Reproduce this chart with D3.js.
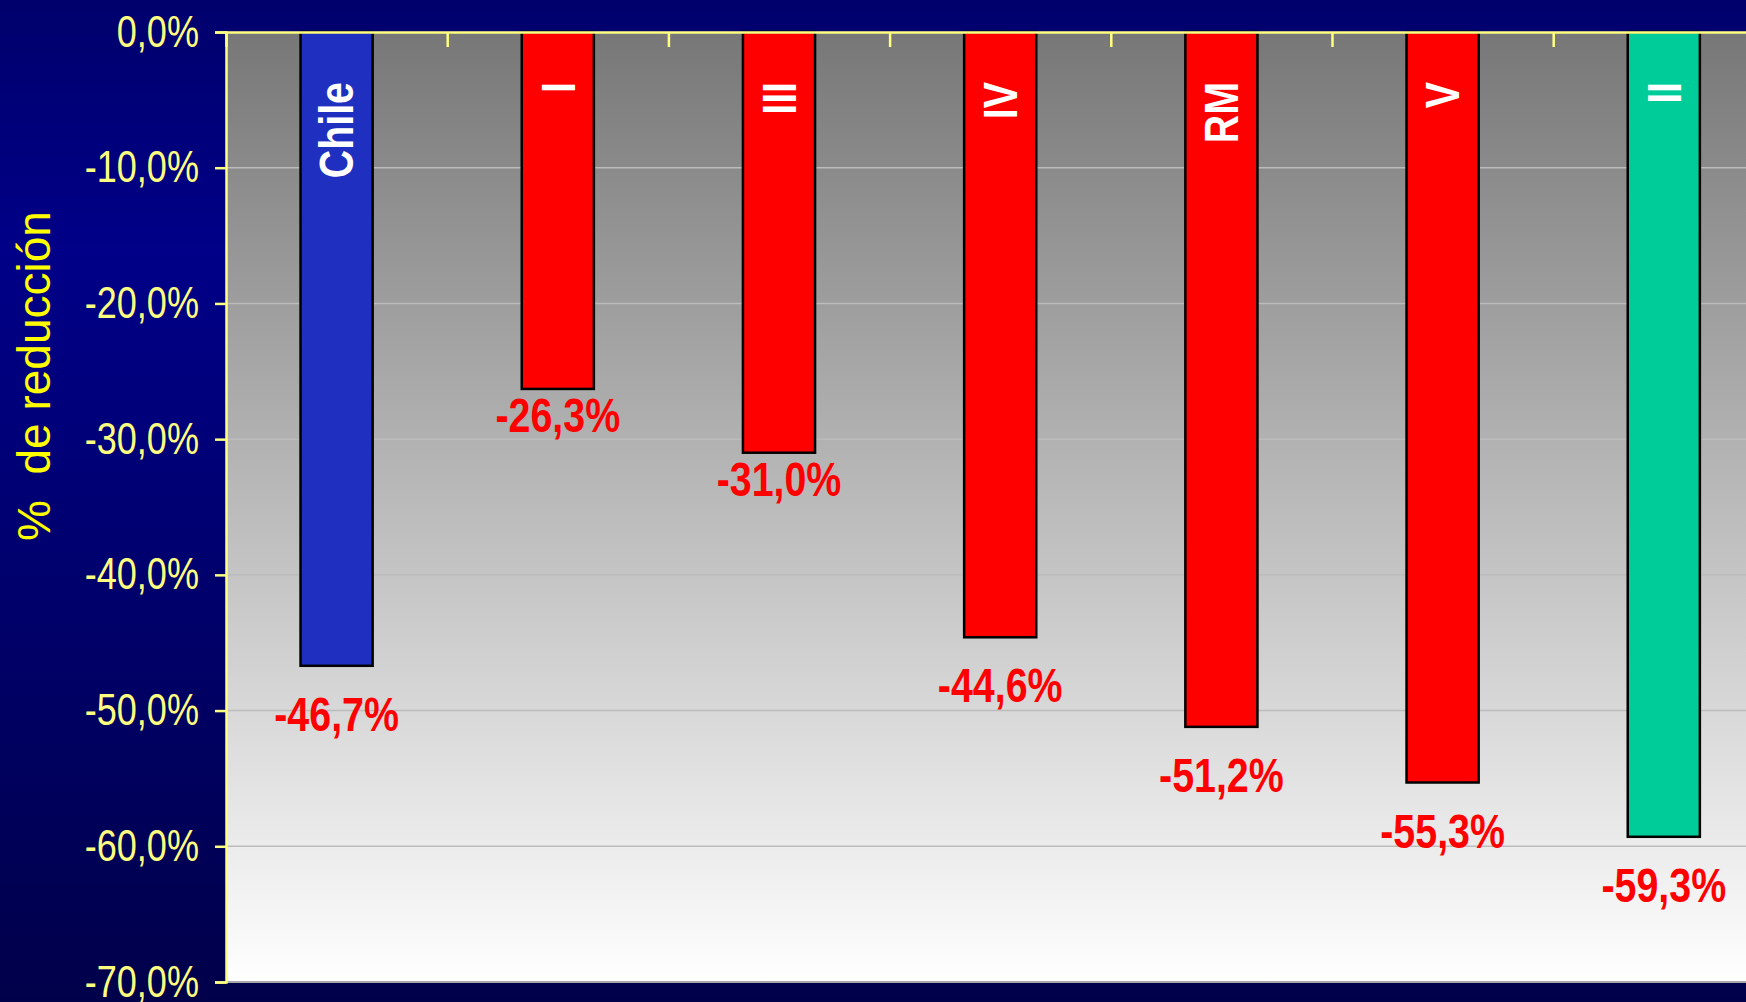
<!DOCTYPE html>
<html>
<head>
<meta charset="utf-8">
<script src="https://cdn.jsdelivr.net/npm/d3@7"></script>
<style>
  html, body { margin: 0; padding: 0; background: #000070; }
  svg { display: block; }
</style>
</head>
<body>
<svg id="chart" width="1746" height="1002"></svg>
<script>
// Data
const regions = ["Chile", "I", "III", "IV", "RM", "V", "II"];
const reductions = [-46.7, -26.3, -31.0, -44.6, -51.2, -55.3, -59.3];
const barColors = ["#1f2fbf", "#ff0000", "#ff0000", "#ff0000", "#ff0000", "#ff0000", "#00cc99"];
const yTicks = [0, -10, -20, -30, -40, -50, -60, -70];

const svg = d3.select("#chart");
const W = 1746, H = 1002;
const margin = { top: 32, left: 226 };
const plotH = 950;
const step = 221.2;
const plotW = step * regions.length;

// no narrow font installed, so squeeze Liberation Sans horizontally
const font = "'Liberation Sans', Arial, sans-serif";
const squeeze = 0.82;
const pct = d => d3.format(".1f")(d).replace("−", "-").replace(".", ",") + "%";

// a couple of labels sit closer to their bars in the original
const labelGap = 65;
const labelNudge = { "I": -22, "III": -22 };

// Background gradients
const defs = svg.append("defs");
const bg = defs.append("linearGradient").attr("id", "bg")
    .attr("x1", 0).attr("y1", 0).attr("x2", 0).attr("y2", 1);
bg.append("stop").attr("offset", "0%").attr("stop-color", "#00006c");
bg.append("stop").attr("offset", "25%").attr("stop-color", "#000088");
bg.append("stop").attr("offset", "100%").attr("stop-color", "#00004a");

const pg = defs.append("linearGradient").attr("id", "plotbg")
    .attr("x1", 0).attr("y1", 0).attr("x2", 0).attr("y2", 1);
pg.append("stop").attr("offset", "0%").attr("stop-color", "#777777");
pg.append("stop").attr("offset", "100%").attr("stop-color", "#ffffff");

svg.append("rect").attr("width", W).attr("height", H).attr("fill", "url(#bg)");

const chart = svg.append("g")
    .attr("transform", `translate(${margin.left},${margin.top})`);

chart.append("rect")
    .attr("width", plotW).attr("height", plotH)
    .attr("fill", "url(#plotbg)");

// Scales
const x = d3.scaleBand()
    .domain(regions)
    .range([0, plotW])
    .paddingInner(0.674)
    .paddingOuter(0.337);

const y = d3.scaleLinear()
    .domain([0, -70])
    .range([0, plotH]);

// Gridlines
chart.append("g")
    .selectAll("line")
    .data(yTicks.filter(d => d !== 0 && d !== -70))
    .join("line")
    .attr("x1", 0).attr("x2", plotW)
    .attr("y1", d => y(d)).attr("y2", d => y(d))
    .attr("stroke", "#bcbcbc")
    .attr("stroke-width", 1.5);

// bottom border
chart.append("line")
    .attr("x1", 0).attr("x2", plotW)
    .attr("y1", plotH).attr("y2", plotH)
    .attr("stroke", "#a8a8a8").attr("stroke-width", 2);

// Bars
chart.selectAll(".bar")
    .data(regions)
    .join("rect")
    .attr("class", "bar")
    .attr("x", d => x(d))
    .attr("y", 0)
    .attr("width", x.bandwidth())
    .attr("height", (d, i) => y(reductions[i]))
    .attr("fill", (d, i) => barColors[i])
    .attr("stroke", "#000")
    .attr("stroke-width", 2.5);

// Region names inside bars
chart.selectAll(".name")
    .data(regions)
    .join("text")
    .attr("class", "name")
    .attr("transform", d => `translate(${x(d) + x.bandwidth() / 2},50) rotate(-90) scale(${squeeze},1)`)
    .attr("dy", "0.35em")
    .attr("text-anchor", "end")
    .attr("fill", "#fff")
    .style("font-family", font)
    .style("font-weight", "bold")
    .style("font-size", "48px")
    .text(d => d);

// Value labels
chart.selectAll(".val")
    .data(regions)
    .join("text")
    .attr("class", "val")
    .attr("transform", (d, i) => {
        const ly = y(reductions[i]) + labelGap + (labelNudge[d] || 0);
        return `translate(${x(d) + x.bandwidth() / 2},${ly}) scale(${squeeze},1)`;
    })
    .attr("text-anchor", "middle")
    .attr("fill", "#ff0000")
    .style("font-family", font)
    .style("font-weight", "bold")
    .style("font-size", "48px")
    .text((d, i) => pct(reductions[i]));

// Top axis (value 0) with ticks between categories
const xi = d3.scaleLinear().domain([0, regions.length]).range([0, plotW]);
const xAxis = chart.append("g")
    .call(d3.axisTop(xi).tickValues(d3.range(1, regions.length)).tickSize(-15).tickFormat(""));
xAxis.select(".domain").attr("stroke", "#ffff80").attr("stroke-width", 2.5);
xAxis.selectAll(".tick line").attr("stroke", "#ffff80").attr("stroke-width", 2.5);

// Left axis
const yAxis = chart.append("g")
    .call(d3.axisLeft(y).tickValues(yTicks).tickSize(11).tickPadding(16).tickFormat(pct));
yAxis.select(".domain").attr("stroke", "#ffff80").attr("stroke-width", 2.5);
yAxis.selectAll(".tick line").attr("stroke", "#ffff80").attr("stroke-width", 2.5);
yAxis.selectAll(".tick text")
    .attr("x", 0)
    .attr("transform", `translate(-27,0) scale(${squeeze},1)`)
    .attr("fill", "#ffff80")
    .attr("dy", "0.32em")
    .style("font-family", font)
    .style("font-size", "44px");

// Axis title
svg.append("text")
    .attr("transform", "translate(50,376) rotate(-90)")
    .attr("text-anchor", "middle")
    .attr("fill", "#ffff00")
    .style("font-family", font)
    .style("font-size", "46px")
    .style("white-space", "pre")
    .text("%  de reducción");
</script>
</body>
</html>
